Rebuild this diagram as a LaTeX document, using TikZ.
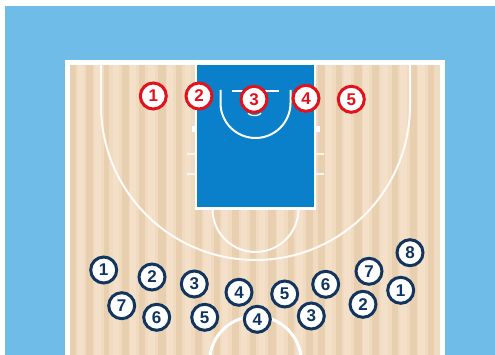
\documentclass[tikz,border=0pt]{standalone}
\usepackage{fontspec}
\setmainfont{Liberation Sans}
\definecolor{skyc}{HTML}{70BCE9}
\definecolor{woodc}{HTML}{F0DAC0}
\definecolor{wooda}{HTML}{E8CFAF}
\definecolor{woodb}{HTML}{F4E0C8}
\definecolor{keyc}{HTML}{0A80CB}
\definecolor{redc}{HTML}{E2111B}
\definecolor{navyc}{HTML}{12355F}
\tikzset{
  courtline/.style={draw=white!90!woodc,line width=2pt},
  hashline/.style={draw=white!70!woodc,line width=1.6pt},
  player/.style={circle,fill=white,minimum size=26pt,inner sep=0pt,line width=3pt,
    font=\fontsize{17}{17}\selectfont\bfseries},
  redp/.style={player,draw=redc,text=redc},
  bluep/.style={player,draw=navyc,text=navyc}
}
\begin{document}
\begin{tikzpicture}[x=1pt,y=-1pt]
\useasboundingbox (0,0) rectangle (495,355);
\fill[white] (0,0) rectangle (495,355);
\fill[skyc] (5,6) rectangle (495,355);
\fill[white] (65,60) rectangle (445,355);
\fill[woodc] (70,65) rectangle (440,355);
% floor boards
\foreach \xa/\w in {70/6,86/7,104/5,122/7,139/6,158/8,176/6,195/7,
  214/6,232/7,250/6,268/8,288/6,306/7,318/7,336/6,354/8,372/7,392/6,410/7,428/6}{
  \fill[wooda] (\xa,65) rectangle ++(\w,290);
}
\foreach \xa/\w in {78/6,95/6,113/6,130/6,148/7,167/6,185/6,
  204/7,222/6,241/6,259/6,277/7,296/7,325/7,344/7,363/6,381/7,400/7,418/7}{
  \fill[woodb] (\xa,65) rectangle ++(\w,290);
}
% three point line
\draw[courtline] (101,65) -- (101,105.5) arc[start angle=180,end angle=0,radius=154.5] -- (410,65);
% lane hash marks
\foreach \yy in {154,174}{
  \draw[hashline] (187,\yy) -- (196,\yy);
  \draw[hashline] (315,\yy) -- (324,\yy);
}
\fill[white] (191.5,126) rectangle (196,132);
\fill[white] (315,126) rectangle (319.5,132);
% free throw circle
\draw[courtline] (212.5,209) arc[start angle=180,end angle=0,radius=43];
% centre circle
\draw[draw=white,line width=3pt] (210,355) arc[start angle=189,end angle=351,radius=46];
% key
\fill[white] (194.5,65) rectangle (316,210);
\fill[keyc] (197,65) rectangle (313.5,207);
% restricted area
\draw[draw=white,line width=2pt] (220.5,90) -- (220.5,103) arc[start angle=180,end angle=0,radius=35] -- (290.5,90);
% backboard and ring
\draw[draw=white,line width=2.5pt] (232,91) -- (279,91);
\draw[draw=white,line width=1.2pt] (248,113) arc[start angle=160,end angle=20,x radius=7,y radius=4];
% red players
\node[redp] (r1) at (153.3,96) {1};
\node[redp] (r2) at (199,96) {2};
\node[redp] (r3) at (254,99.3) {3};
\node[redp] (r4) at (306,98.3) {4};
\node[redp] (r5) at (351.3,99.3) {5};
% blue players
\node[bluep] (b1) at (103.7,270) {1};
\node[bluep] (b2) at (152,277) {2};
\node[bluep] (b3) at (194.3,284) {3};
\node[bluep] (b4) at (239,292.3) {4};
\node[bluep] (b7) at (121.7,305.7) {7};
\node[bluep] (b6) at (156.7,317.3) {6};
\node[bluep] (b5) at (204.7,317.3) {5};
\node[bluep] (c4) at (257.3,319.3) {4};
\node[bluep] (c5) at (284.7,294) {5};
\node[bluep] (c3) at (311.3,316) {3};
\node[bluep] (c6) at (325.7,284.3) {6};
\node[bluep] (c2) at (363,304.3) {2};
\node[bluep] (c7) at (369,271.3) {7};
\node[bluep] (c1) at (400.7,290.3) {1};
\node[bluep] (c8) at (410,252.7) {8};
\end{tikzpicture}
\end{document}
